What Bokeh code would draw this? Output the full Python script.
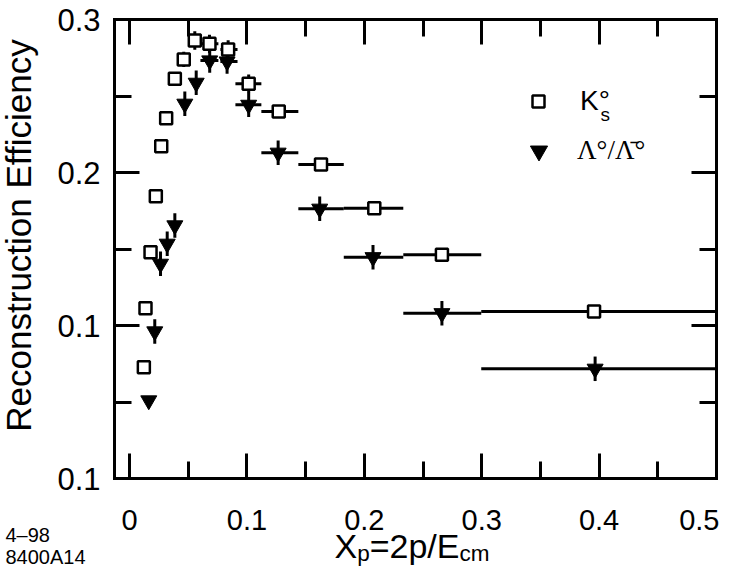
import math
from bokeh.plotting import figure
from bokeh.models import (Legend, LegendItem, Label, LinearAxis, FixedTicker,
                          Range1d, ColumnDataSource)
from bokeh.embed import file_html
from bokeh.resources import INLINE

# ---------------- data ----------------
k_x = [0.0122, 0.0136, 0.0179, 0.0224, 0.0270, 0.0312, 0.0386, 0.0462, 0.0556,
       0.0681, 0.0840, 0.1015, 0.1271, 0.1631, 0.2085, 0.2661, 0.3957]
k_y = [0.0727, 0.1113, 0.1479, 0.1845, 0.2172, 0.2355, 0.2612, 0.2739, 0.2863,
       0.2841, 0.2804, 0.2580, 0.2399, 0.2052, 0.1767, 0.1462, 0.1092]
k_yerr = [0, 0, 0, 0, 0, 0, 0.004, 0.005, 0.006,
          0.006, 0.006, 0.006, 0, 0, 0, 0, 0]

l_x = [0.0164, 0.0215, 0.0264, 0.0321, 0.0386, 0.0471, 0.0568, 0.0683, 0.0831,
       0.1015, 0.1266, 0.1620, 0.2074, 0.2661, 0.3966]
l_y = [0.0510, 0.0961, 0.1403, 0.1534, 0.1654, 0.2449, 0.2586, 0.2732, 0.2725,
       0.2442, 0.2129, 0.1763, 0.1446, 0.1080, 0.0717]
l_yerr = [0.003, 0.008, 0.008, 0.008, 0.008, 0.008, 0.008, 0.008, 0.008,
          0.008, 0.008, 0.008, 0.008, 0.008, 0.008]

# x bins (horizontal bars) for the last 8 points of each series
bin_lo = [0.0604, 0.0774, 0.0902, 0.1123, 0.1438, 0.1825, 0.2332, 0.2996]
bin_hi = [0.0757, 0.0920, 0.1123, 0.1438, 0.1825, 0.2332, 0.2996, 0.5000]

x_ticks = [0, 0.1, 0.2, 0.3, 0.4, 0.5]
x_minor = [0.05, 0.15, 0.25, 0.35, 0.45]
y_ticks = [0, 0.1, 0.2, 0.3]
y_minor = [0.05, 0.15, 0.25]
y_tick_labels = {0: "0.1", 0.1: "0.1", 0.2: "0.2", 0.3: "0.3"}
x_tick_labels = {0: "0", 0.1: "0.1", 0.2: "0.2", 0.3: "0.3", 0.4: "0.4", 0.5: "0.5"}

X_LO, X_HI = -0.0128, 0.5      # plotted box
Y_LO, Y_HI = 0.0, 0.3

FONT = "Liberation Sans"
W, H = 719, 566
# box position on the canvas (px)
BL, BR, BT, BB = 114, 716, 19, 478
sx = (BR - BL) / (X_HI - X_LO)
sy = (BB - BT) / (Y_HI - Y_LO)
x_range = Range1d(X_LO - BL / sx, X_HI + (W - BR) / sx)
y_range = Range1d(Y_LO - (H - BB) / sy, Y_HI + BT / sy)

p = figure(width=W, height=H, x_range=x_range, y_range=y_range,
           output_backend="svg", toolbar_location=None, x_axis_location=None,
           y_axis_location=None)
p.min_border = 0
p.grid.visible = False
p.outline_line_color = None
p.background_fill_color = "white"
p.border_fill_color = "white"


def make_axis(loc, ticks, minor, bounds, labels=None):
    ax = LinearAxis(fixed_location=loc, bounds=bounds,
                    ticker=FixedTicker(ticks=ticks, minor_ticks=minor))
    ax.axis_line_width = 3
    ax.axis_line_color = "black"
    ax.axis_line_cap = "square"
    ax.major_tick_in = 25
    ax.major_tick_out = 0
    ax.minor_tick_in = 17
    ax.minor_tick_out = 0
    ax.major_tick_line_width = 3
    ax.minor_tick_line_width = 3
    ax.major_tick_line_color = "black"
    ax.minor_tick_line_color = "black"
    if labels is not None:
        ax.major_label_overrides = labels
        ax.major_label_text_font = FONT
        ax.major_label_text_color = "black"
    else:
        ax.major_label_text_color = None
    return ax


bx = make_axis(Y_LO, x_ticks, x_minor, (X_LO, X_HI), x_tick_labels)
bx.major_label_text_font_size = "29px"
bx.major_label_standoff = 31
p.add_layout(bx, "below")
p.add_layout(make_axis(Y_HI, x_ticks, x_minor, (X_LO, X_HI)), "above")

ly = make_axis(X_LO, y_ticks, y_minor, (Y_LO, Y_HI), y_tick_labels)
ly.major_label_text_font_size = "31px"
ly.major_label_standoff = 14
p.add_layout(ly, "left")
p.add_layout(make_axis(X_HI, y_ticks, y_minor, (Y_LO, Y_HI)), "right")

# ---------------- error bars ----------------
n_k = len(k_x)
n_l = len(l_x)
nb = len(bin_lo)

kh = ColumnDataSource(dict(x0=bin_lo, x1=bin_hi, y=k_y[n_k - nb:]))
lh = ColumnDataSource(dict(x0=bin_lo, x1=bin_hi, y=l_y[n_l - nb:]))
p.segment(x0="x0", x1="x1", y0="y", y1="y", source=kh, line_color="black", line_width=3)
p.segment(x0="x0", x1="x1", y0="y", y1="y", source=lh, line_color="black", line_width=3)

kv = ColumnDataSource(dict(x=k_x, y0=[y - e for y, e in zip(k_y, k_yerr)],
                           y1=[y + e for y, e in zip(k_y, k_yerr)]))
lv = ColumnDataSource(dict(x=l_x, y0=[y - e for y, e in zip(l_y, l_yerr)],
                           y1=[y + e for y, e in zip(l_y, l_yerr)]))
p.segment(x0="x", x1="x", y0="y0", y1="y1", source=kv, line_color="black", line_width=3)
p.segment(x0="x", x1="x", y0="y0", y1="y1", source=lv, line_color="black", line_width=3)

# ---------------- markers ----------------
r_l = p.scatter(l_x, l_y, marker="inverted_triangle", size=16, fill_color="black",
                line_color="black", line_width=1)
r_k = p.scatter(k_x, k_y, marker="square", size=12, fill_color="white",
                line_color="black", line_width=2.5)

# ---------------- legends ----------------
leg_k = Legend(items=[LegendItem(label="K°", renderers=[r_k])],
               location=(523, H - 121), glyph_width=30, glyph_height=40,
               label_height=40, label_standoff=27, padding=0, margin=0,
               border_line_color=None, background_fill_alpha=0,
               label_text_font=FONT, label_text_font_size="28px",
               label_text_color="black")
leg_l = Legend(items=[LegendItem(label="Λ°/Λ̄°", renderers=[r_l])],
               location=(517, H - 172), glyph_width=43, glyph_height=43,
               label_height=43, label_standoff=17, padding=0, margin=0,
               border_line_color=None, background_fill_alpha=0,
               label_text_font="Liberation Serif", label_text_font_size="27px",
               label_text_color="black")
p.add_layout(leg_k)
p.add_layout(leg_l)


def label(text, x, y_mid, size, font=FONT, **kw):
    """x, y_mid in canvas px from the top-left corner (vertical middle of text)."""
    p.add_layout(Label(x=x, y=H - y_mid, x_units="screen", y_units="screen",
                       text=text, text_font=font, text_font_size=size,
                       text_color="black", text_baseline="middle", **kw))


label("s", 600, 114, "19px")

# ---------------- titles / notes ----------------
label("Reconstruction Efficiency", 18, 235, "35px", angle=math.pi / 2,
      text_align="center")

label("X", 334, 545, "34px")
label("p", 356.7, 553, "22.5px")
label("=2p/E", 369.2, 545, "34px")
label("cm", 459, 553, "22.5px")

label("4–98", 5, 534, "20px")
label("8400A14", 5, 556, "20px")

open("out.html", "w").write(file_html(p, INLINE))
